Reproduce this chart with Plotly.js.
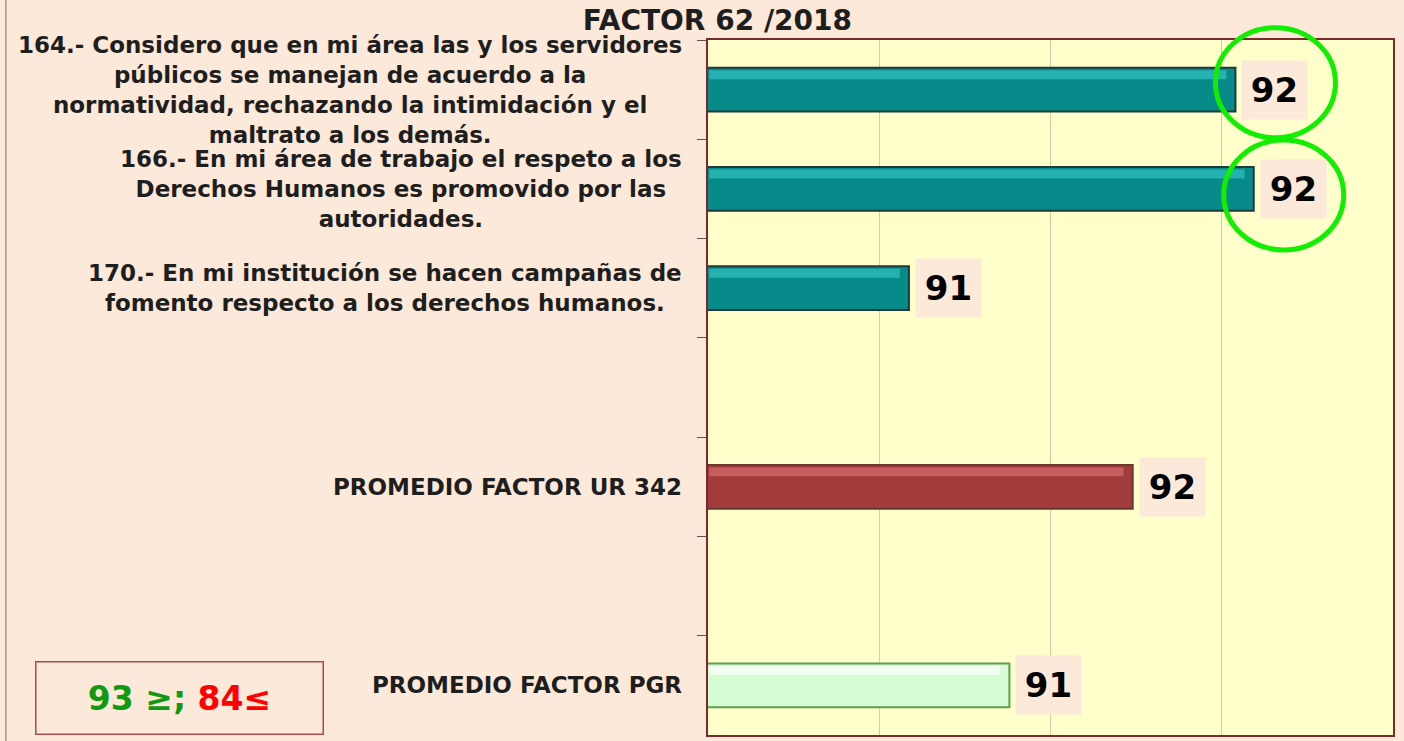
<!DOCTYPE html>
<html>
<head>
<meta charset="utf-8">
<script src="https://cdn.plot.ly/plotly-3.0.1.min.js"></script>
<style>
html,body{margin:0;padding:0;background:#FDE9D9;}
#chart{width:1404px;height:741px;}
</style>
</head>
<body>
<div id="chart"></div>
<script>
// ---- data ----
const categoryKeys = ['P164', 'P166', 'P170', 'GAP_A', 'UR342', 'GAP_B', 'PGR'];
const categoryLabels = [
  '164.- Considero que en mi área las y los servidores<br>públicos se manejan de acuerdo a la<br>normatividad, rechazando la intimidación y el<br>maltrato a los demás.',
  '166.- En mi área de trabajo el respeto a los<br>Derechos Humanos es promovido por las<br>autoridades.',
  '170.- En mi institución se hacen campañas de<br>fomento respecto a los derechos humanos.',
  '',
  'PROMEDIO FACTOR UR 342',
  '',
  'PROMEDIO FACTOR PGR'
];
const values = [92.31, 92.39, 90.88, null, 91.86, null, 91.32];
const barColors = ['#078A8A', '#078A8A', '#078A8A', null, '#A23B3C', null, '#D6FCD4'];
const barHighlights = ['#33C2C2', '#33C2C2', '#33C2C2', null, '#D46E6E', null, '#FFFFFF'];
const barLines = ['#1E3B3B', '#1E3B3B', '#1E3B3B', null, '#6A3A30', null, '#5E9E52'];
const highlighted = ['P164', 'P166'];
const xRange = [90, 93];
const chartTitle = 'FACTOR 62 /2018';
const legendGreen = '93 ≥;';
const legendRed = '84≤';

// ---- chart ----
const FONT = '"DejaVu Sans", "Open Sans", sans-serif';

const trace = {
  type: 'bar',
  orientation: 'h',
  y: categoryKeys,
  x: values,
  width: 0.44,
  marker: {
    color: barColors.map(c => c || '#000'),
    line: {color: barLines.map(c => c || '#000'), width: 2}
  },
  hoverinfo: 'x+y',
  showlegend: false
};
// bevel highlight band on top of each bar
const bevel = {
  type: 'bar',
  orientation: 'h',
  y: categoryKeys,
  width: 0.09,
  offset: -0.195,
  base: xRange[0] + 0.005,
  marker: {color: barHighlights.map(c => c || '#000'), line: {width: 0}, opacity: 0.7},
  hoverinfo: 'skip',
  showlegend: false
};
bevel.x = values.map(v => v === null ? null : v - xRange[0] - 0.005 - 0.04);

const annotations = [];
categoryKeys.forEach((k, i) => {
  if (categoryLabels[i]) {
    annotations.push({
      xref: 'paper', yref: 'y', x: 0, y: k,
      xanchor: 'right', yanchor: 'middle', xshift: -24,
      align: 'center', showarrow: false,
      text: categoryLabels[i],
      font: {family: FONT, size: 23, color: '#1E1E1E', weight: 700}
    });
  }
  if (values[i] !== null) {
    annotations.push({
      xref: 'x', yref: 'y', x: values[i], y: k,
      xanchor: 'left', yanchor: 'middle', xshift: 6,
      showarrow: false,
      text: String(Math.round(values[i])),
      bgcolor: '#FDE9D9', borderpad: 7, width: 51, height: 44,
      font: {family: FONT, size: 34, color: '#000', weight: 700}
    });
  }
});

annotations.push({
  xref: 'paper', yref: 'paper', x: -0.772, y: 0.053,
  xanchor: 'center', yanchor: 'middle', showarrow: false,
  text: '<span style="color:#129912">' + legendGreen + '</span> <span style="color:#FF0000">' + legendRed + '</span>',
  width: 284, height: 69, borderpad: 1,
  bordercolor: '#B04848', borderwidth: 1.5, bgcolor: 'rgba(0,0,0,0)',
  font: {family: FONT, size: 33, weight: 700}
});

// highlight circles (paper refs so they are not clipped by the plot area)
const shapes = [];
const nCat = categoryKeys.length;
categoryKeys.forEach((k, i) => {
  if (highlighted.includes(k)) {
    const up = i === 0;
    shapes.push({
      type: 'circle', xref: 'paper', yref: 'paper',
      xsizemode: 'pixel', ysizemode: 'pixel',
      xanchor: (values[i] - xRange[0]) / (xRange[1] - xRange[0]),
      yanchor: 1 - (i + 0.5) / nCat,
      x0: up ? -20 : -30, x1: up ? 100 : 90,
      y0: up ? -48 : -61, y1: up ? 62 : 49,
      line: {color: '#11EE00', width: 5}
    });
  }
});
shapes.push({
  type: 'line', xref: 'paper', yref: 'paper',
  x0: -1.025, x1: -1.025, y0: -0.01, y1: 1.06,
  line: {color: '#9a9a9a', width: 1.5}
});

const layout = {
  width: 1404, height: 741,
  paper_bgcolor: '#FDE9D9',
  plot_bgcolor: '#FFFFCC',
  margin: {l: 708, r: 11, t: 40, b: 6},
  barmode: 'overlay',
  title: {
    text: chartTitle,
    xref: 'container', yref: 'container', x: 0.511, y: 0.973,
    xanchor: 'center', yanchor: 'middle',
    font: {family: FONT, size: 28, color: '#1E1E1E', weight: 700}
  },
  xaxis: {
    range: xRange, tick0: xRange[0], dtick: 0.75,
    showticklabels: false, ticks: '',
    showgrid: true, gridcolor: '#E8C4A4', gridwidth: 1,
    zeroline: false,
    showline: true, mirror: true, linecolor: '#7A2A2A', linewidth: 2
  },
  yaxis: {
    type: 'category', categoryorder: 'array', categoryarray: categoryKeys,
    range: [nCat - 0.5, -0.5],
    showticklabels: false, tickson: 'boundaries', ticks: 'outside',
    ticklen: 9, tickcolor: '#555', tickwidth: 1,
    showgrid: false, zeroline: false,
    showline: true, mirror: true, linecolor: '#7A2A2A', linewidth: 2
  },
  annotations: annotations,
  shapes: shapes
};

Plotly.newPlot('chart', [trace, bevel], layout, {displayModeBar: false, staticPlot: true});
</script>
</body>
</html>
